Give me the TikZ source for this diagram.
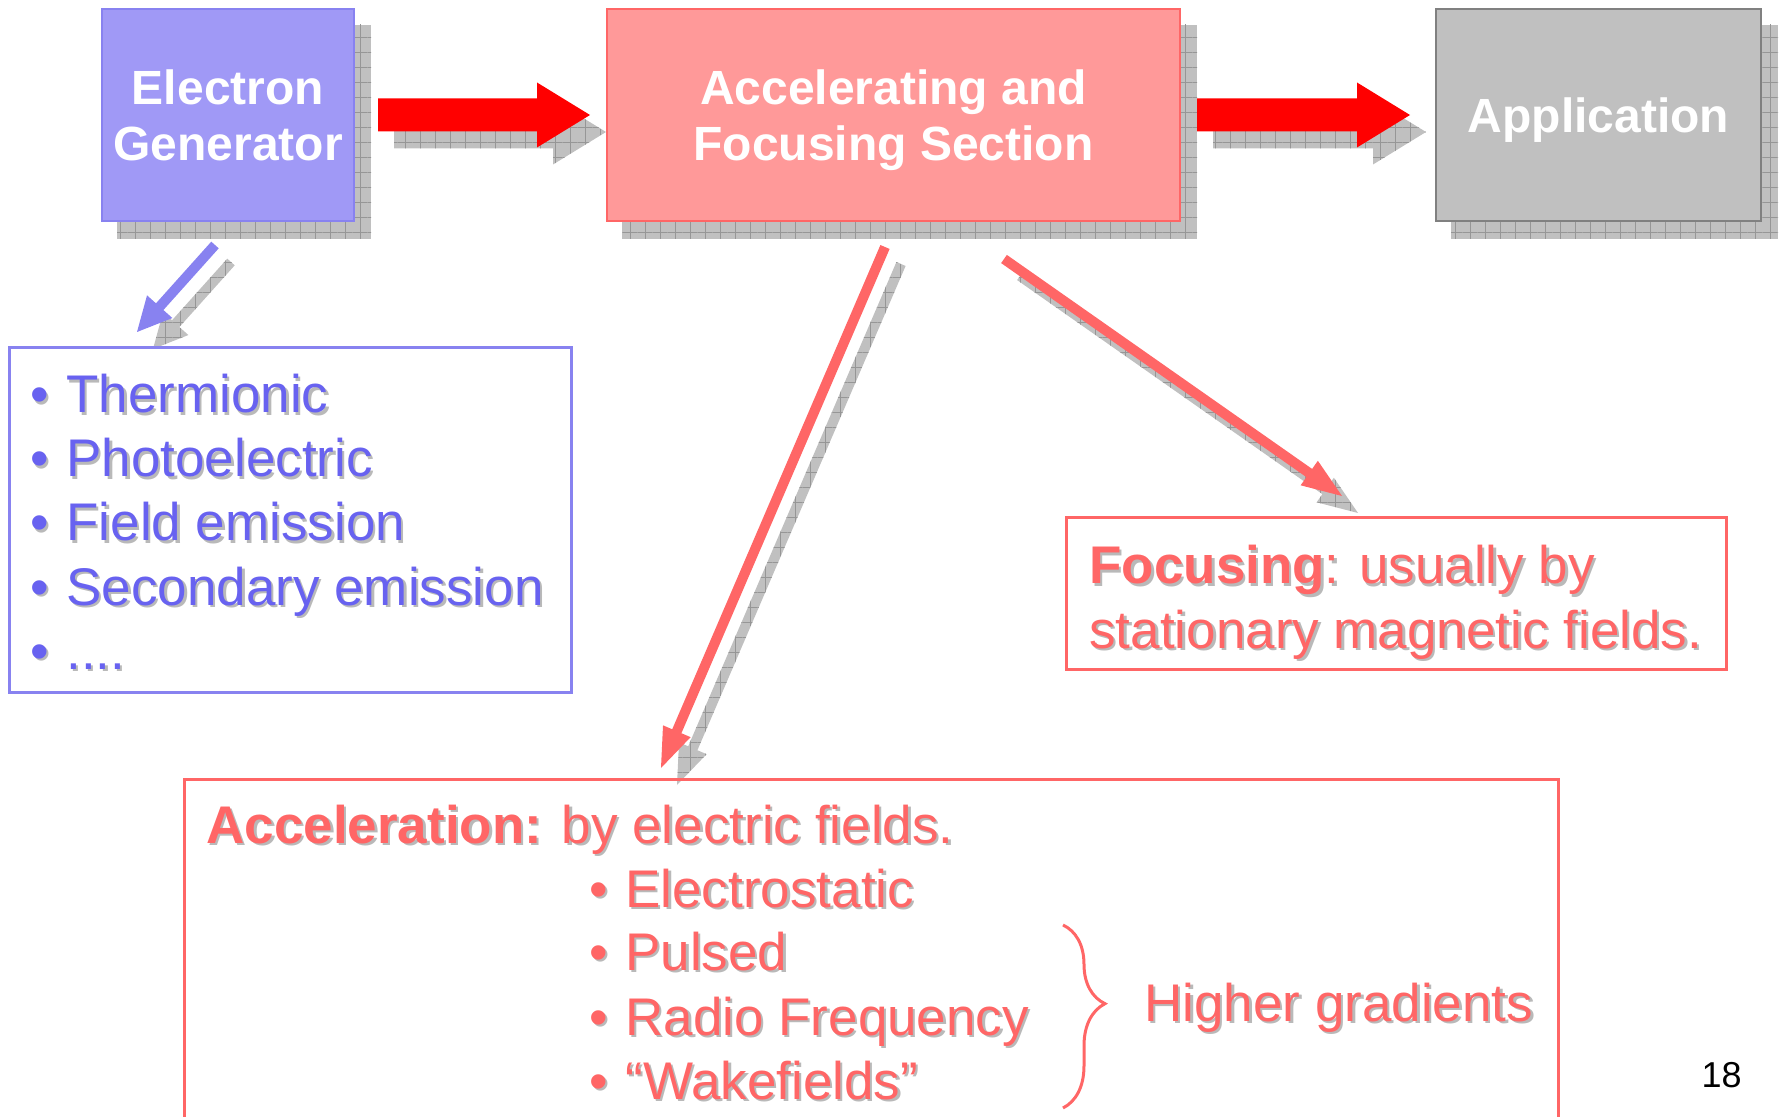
\documentclass[tikz,border=0pt]{standalone}
\usepackage{fontspec}
\setmainfont{Liberation Sans}
\usetikzlibrary{calc,backgrounds,decorations.pathreplacing,patterns.meta}
\definecolor{egfill}{RGB}{160,153,246}
\definecolor{egborder}{RGB}{136,130,240}
\definecolor{bluetext}{RGB}{104,98,240}
\definecolor{accfill}{RGB}{255,153,153}
\definecolor{redline}{RGB}{255,102,102}
\definecolor{pure}{RGB}{255,0,0}
\definecolor{appfill}{RGB}{192,192,192}
\definecolor{appborder}{RGB}{128,128,128}
\definecolor{shfill}{RGB}{192,192,192}
\definecolor{shgrid}{RGB}{150,150,150}
\definecolor{tshadow}{RGB}{185,185,185}

\newcommand{\bul}{\makebox[18pt][l]{•}}
\newcommand{\shtxt}[4]{\node[#1,text=tshadow,xshift=1.2pt,yshift=-1.2pt] at (#3) {#4};\node[#1] (#2) at (#3) {#4};}
\newcommand{\arrpoly}[6]{\path[#1] ($(#2)!#5!90:(#4)$) -- ($(#3)!#5!90:(#4)$) -- ($(#3)!#6!90:(#4)$) -- (#4) -- ($(#3)!#6!-90:(#4)$) -- ($(#3)!#5!-90:(#4)$) -- ($(#2)!#5!-90:(#4)$) -- cycle;}

\tikzset{
  shadowgrid/.style={fill=shfill,
    postaction={pattern={Lines[angle=0,distance=7.5pt,line width=0.4pt]},pattern color=shgrid},
    postaction={pattern={Lines[angle=90,distance=7.5pt,line width=0.4pt]},pattern color=shgrid}},
  titlebox/.style={rectangle, line width=1pt, minimum height=106pt, text=white, align=center,
    text depth=0pt, font=\fontsize{24pt}{28pt}\selectfont\bfseries},
  body/.style={font=\fontsize{26.5pt}{32pt}\selectfont, inner sep=0pt, anchor=base west},
  listbox/.style={rectangle, line width=1.5pt, inner sep=0pt},
}

\begin{document}
\begin{tikzpicture}[x=0.5pt,y=-0.5pt]
\useasboundingbox (0,0) rectangle (1779,1117);

% boxes
\node[titlebox, fill=egfill, draw=egborder, minimum width=126pt] (eg) at (228,115) {Electron\\Generator};
\node[titlebox, fill=accfill, draw=redline, minimum width=286.5pt] (acc) at (893.5,115) {Accelerating and\\Focusing Section};
\node[titlebox, fill=appfill, draw=appborder, minimum width=162.5pt] (app) at (1598.5,115) {Application};

\node[listbox, draw=egborder, minimum width=281pt, minimum height=172pt] (gen) at (290,520) {};
\node[listbox, draw=redline, minimum width=330pt, minimum height=75.5pt] (foc) at (1396,593.5) {};
\draw[redline, line width=1.5pt] (184,1125) |- (1558,779) -- (1558,1125);

% arrow coordinates
\coordinate (a1s) at (378,115); \coordinate (a1t) at (590,115);
\coordinate (a2s) at (1197,115); \coordinate (a2t) at (1410,115);
\coordinate (bs) at (215,245); \coordinate (bt) at (137,332);
\coordinate (rs) at (885,247); \coordinate (rt) at (661,768);
\coordinate (fs) at (1004,259); \coordinate (ft) at (1342,496);
\coordinate (a1b) at ($(a1t)!26.5pt!(a1s)$);
\coordinate (a2b) at ($(a2t)!26.5pt!(a2s)$);
\coordinate (bb) at ($(bt)!17pt!(bs)$);
\coordinate (rb) at ($(rt)!20pt!(rs)$);
\coordinate (fb) at ($(ft)!20pt!(fs)$);

% shadows
\begin{scope}[on background layer]
  \path[shadowgrid] ($(eg.north west)+(16,17)$) rectangle ($(eg.south east)+(16,17)$);
  \path[shadowgrid] ($(acc.north west)+(16,17)$) rectangle ($(acc.south east)+(16,17)$);
  \path[shadowgrid] ($(app.north west)+(16,17)$) rectangle ($(app.south east)+(16,17)$);
  \begin{scope}[transform canvas={shift={(8pt,-8.5pt)}}]
    \arrpoly{shadowgrid}{a1s}{a1b}{a1t}{8.25pt}{16.25pt}
    \arrpoly{shadowgrid}{a2s}{a2b}{a2t}{8.25pt}{16.25pt}
    \arrpoly{shadowgrid}{bs}{bb}{bt}{2.5pt}{8.5pt}
    \arrpoly{shadowgrid}{rs}{rb}{rt}{2.5pt}{7.5pt}
    \arrpoly{shadowgrid}{fs}{fb}{ft}{2.5pt}{7.5pt}
  \end{scope}
\end{scope}

% arrows
\arrpoly{fill=pure}{a1s}{a1b}{a1t}{8.25pt}{16.25pt}
\arrpoly{fill=pure}{a2s}{a2b}{a2t}{8.25pt}{16.25pt}
\arrpoly{fill=egborder}{bs}{bb}{bt}{2.5pt}{8.5pt}
\arrpoly{fill=redline}{rs}{rb}{rt}{2.5pt}{7.5pt}
\arrpoly{fill=redline}{fs}{fb}{ft}{2.5pt}{7.5pt}

% generator list
\shtxt{body,text=bluetext}{g1}{30,413}{\bul Thermionic}
\shtxt{body,text=bluetext}{g2}{30,477}{\bul Photoelectric}
\shtxt{body,text=bluetext}{g3}{30,541}{\bul Field emission}
\shtxt{body,text=bluetext}{g4}{30,605}{\bul Secondary emission}
\shtxt{body,text=bluetext}{g5}{30,669}{\bul ....}

% focusing
\shtxt{body,text=redline}{f1}{1089,584}{\textbf{Focusing}: usually by}
\shtxt{body,text=redline}{f2}{1089,648}{stationary magnetic fields.}

% acceleration
\shtxt{body,text=redline}{c0}{206,843}{\textbf{Acceleration:} by electric fields.}
\shtxt{body,text=redline}{c1}{589,907}{\bul Electrostatic}
\shtxt{body,text=redline}{c2}{589,970}{\bul Pulsed}
\shtxt{body,text=redline}{c3}{589,1035}{\bul Radio Frequency}
\shtxt{body,text=redline}{c4}{589,1099}{\bul “Wakefields”}
\draw[redline, line width=1.5pt, decorate, decoration={brace, amplitude=21pt, aspect=0.43}] (1063,925) -- (1063,1108);
\shtxt{body,text=redline}{hg}{1144,1021}{Higher gradients}

\node[font=\fontsize{18pt}{20pt}\selectfont, anchor=base east, inner sep=0pt] (pg) at (1742,1087) {18};
\end{tikzpicture}
\end{document}
